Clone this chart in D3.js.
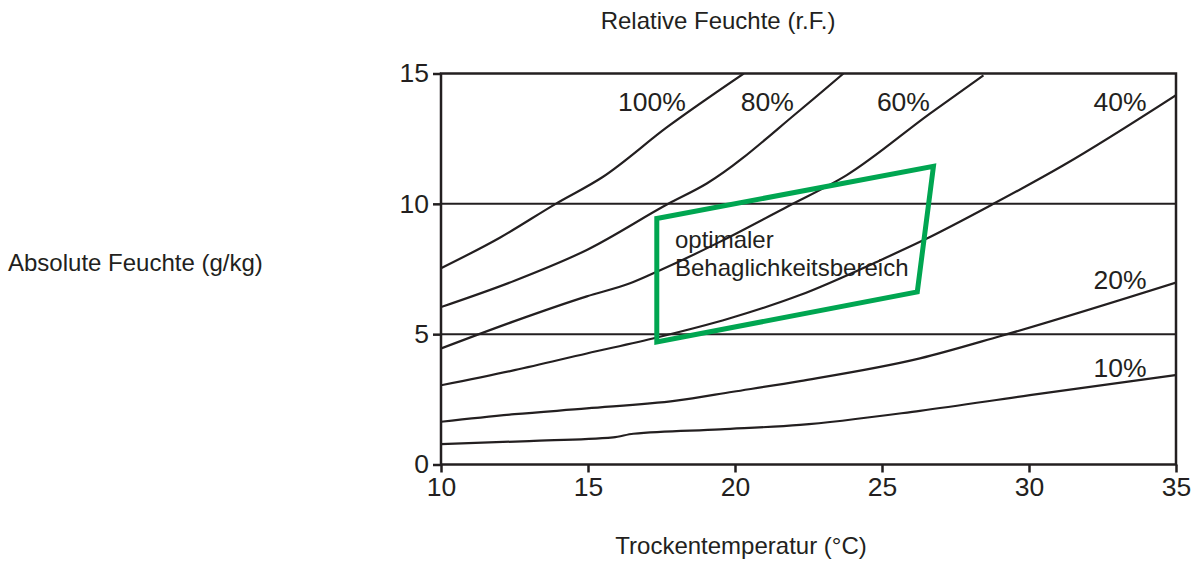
<!DOCTYPE html>
<html>
<head>
<meta charset="utf-8">
<script src="https://cdn.jsdelivr.net/npm/d3@7"></script>
<style>
  body { margin: 0; background: #fff; }
  svg text { font-family: "Liberation Sans", Arial, sans-serif; fill: #231f20; }
</style>
</head>
<body>
<svg id="chart" width="1192" height="561"></svg>
<script>
// relative humidity curves: [temperature °C, absolute humidity g/kg]
var rh100 = [[10, 7.53], [12, 8.7], [13.9, 10], [15.5, 11.03], [17.7, 12.95], [20.3, 15]];
var rh80 = [[10, 6.04], [12.5, 7.05], [14.96, 8.23], [17.73, 10], [19.04, 10.78], [22.21, 13.59], [23.69, 15]];
var rh60 = [[10, 4.45], [12.5, 5.5], [14.96, 6.45], [16.43, 6.95], [17.45, 7.45], [19.5, 8.55], [21.76, 9.88], [23.8, 11.1], [26.63, 13.46], [28.45, 14.93]];
var rh40 = [[10, 3.04], [12.5, 3.62], [14.96, 4.26], [17.34, 4.87], [19.8, 5.6], [22.21, 6.5], [24.93, 7.83], [26.4, 8.6], [28.79, 10], [31.17, 11.48], [35, 14.17]];
var rh20 = [[10, 1.64], [12.5, 1.93], [14.96, 2.15], [18.0, 2.45], [19.93, 2.79], [22.21, 3.2], [26.29, 4.07], [29.01, 4.92], [35, 6.98]];
var rh10 = [[10, 0.78], [13, 0.9], [15.86, 1.04], [16.54, 1.18], [19.5, 1.35], [22.21, 1.52], [26.29, 2.06], [30.03, 2.66], [35, 3.43]];

var curveSeries = [rh100, rh80, rh60, rh40, rh20, rh10];
var curveLabels = ["100%", "80%", "60%", "40%", "20%", "10%"];
// label anchor (right end, baseline) in data units
var labelAt = [[18.33, 13.55], [22.0, 13.55], [26.63, 13.55], [34.0, 13.55], [34.0, 6.73], [34.0, 3.35]];

// comfort zone polygon
var comfortZone = [[17.34, 9.44], [26.75, 11.44], [26.2, 6.62], [17.34, 4.7]];
var comfortText = ["optimaler", "Behaglichkeitsbereich"];

var refLines = [5, 10];
var xTicks = [10, 15, 20, 25, 30, 35];
var yTicks = [0, 5, 10, 15];

var svg = d3.select("#chart");
var plotLeft = 441, plotRight = 1176, plotTop = 73.5, plotBottom = 464.5;

var x = d3.scaleLinear().domain([10, 35]).range([plotLeft, plotRight]);
var y = d3.scaleLinear().domain([0, 15]).range([plotBottom, plotTop]);

svg.append("defs").append("clipPath").attr("id", "plotClip")
    .append("rect")
    .attr("x", plotLeft).attr("y", plotTop)
    .attr("width", plotRight - plotLeft).attr("height", plotBottom - plotTop);

var plot = svg.append("g").attr("clip-path", "url(#plotClip)");

// horizontal reference lines
plot.selectAll("line.ref")
    .data(refLines)
    .enter()
    .append("line")
    .attr("class", "ref")
    .attr("x1", plotLeft).attr("x2", plotRight)
    .attr("y1", (d) => y(d)).attr("y2", (d) => y(d))
    .attr("stroke", "#231f20")
    .attr("stroke-width", 2);

var line = d3.line()
    .x((d) => x(d[0]))
    .y((d) => y(d[1]))
    .curve(d3.curveMonotoneX);

plot.selectAll("path.rh")
    .data(curveSeries)
    .enter()
    .append("path")
    .attr("class", "rh")
    .attr("d", line)
    .attr("fill", "none")
    .attr("stroke", "#231f20")
    .attr("stroke-width", 2.2);

// comfort zone
svg.append("path")
    .attr("d", d3.line().x((d) => x(d[0])).y((d) => y(d[1]))(comfortZone) + "Z")
    .attr("fill", "none")
    .attr("stroke", "#00a651")
    .attr("stroke-width", 5)
    .attr("stroke-linejoin", "miter");

svg.selectAll("text.comfort")
    .data(comfortText)
    .enter()
    .append("text")
    .attr("class", "comfort")
    .attr("x", 675)
    .attr("y", (d, i) => 248 + i * 28)
    .attr("font-size", 24)
    .text((d) => d);

// curve labels
svg.selectAll("text.rhLabel")
    .data(curveLabels)
    .enter()
    .append("text")
    .attr("class", "rhLabel")
    .attr("x", (d, i) => x(labelAt[i][0]))
    .attr("y", (d, i) => y(labelAt[i][1]))
    .attr("text-anchor", "end")
    .attr("font-size", 26.5)
    .text((d) => d);

// frame
svg.append("rect")
    .attr("x", plotLeft).attr("y", plotTop)
    .attr("width", plotRight - plotLeft).attr("height", plotBottom - plotTop)
    .attr("fill", "none")
    .attr("stroke", "#231f20")
    .attr("stroke-width", 2.5);

// axes
var xAxis = d3.axisBottom(x).tickValues(xTicks).tickSize(8).tickPadding(5).tickFormat(d3.format("d"));
var yAxis = d3.axisLeft(y).tickValues(yTicks).tickSize(8).tickPadding(4).tickFormat(d3.format("d"));

var gx = svg.append("g").attr("transform", `translate(0,${plotBottom})`).call(xAxis);
var gy = svg.append("g").attr("transform", `translate(${plotLeft},0)`).call(yAxis);

[gx, gy].forEach(function (g) {
    g.select(".domain").remove();
    g.selectAll(".tick line").attr("stroke", "#231f20").attr("stroke-width", 2.5);
    g.selectAll(".tick text")
        .attr("font-size", 26.5)
        .attr("font-family", "Liberation Sans, Arial, sans-serif")
        .attr("fill", "#231f20");
});

// titles
svg.append("text")
    .attr("x", 718).attr("y", 29)
    .attr("text-anchor", "middle")
    .attr("font-size", 24)
    .text("Relative Feuchte (r.F.)");

svg.append("text")
    .attr("x", 8).attr("y", 271)
    .attr("font-size", 24)
    .text("Absolute Feuchte (g/kg)");

svg.append("text")
    .attr("x", 741).attr("y", 554)
    .attr("text-anchor", "middle")
    .attr("font-size", 24)
    .text("Trockentemperatur (°C)");
</script>
</body>
</html>
